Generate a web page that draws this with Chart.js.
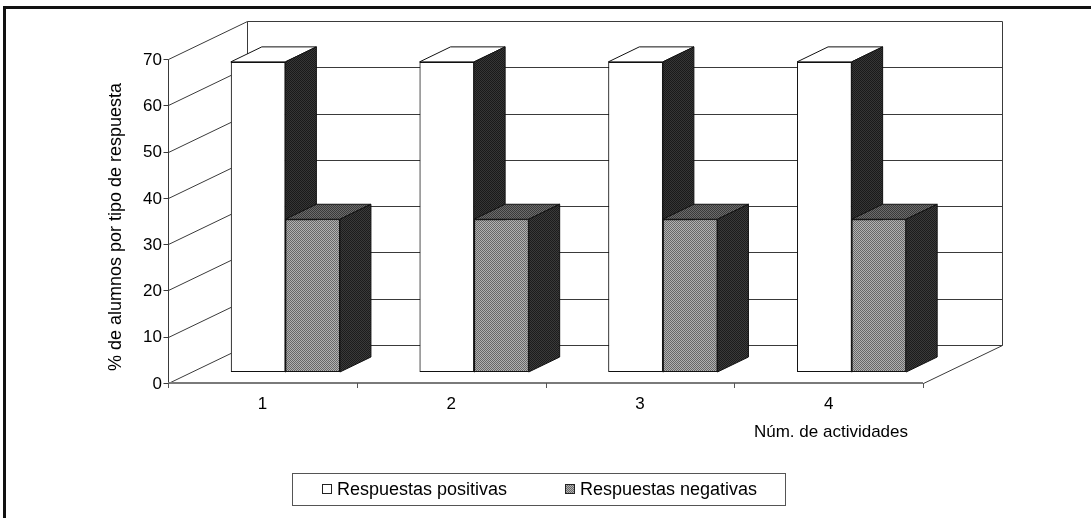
<!DOCTYPE html>
<html>
<head>
<meta charset="utf-8">
<script src="https://cdn.jsdelivr.net/npm/chart.js@4.4.1/dist/chart.umd.min.js"></script>
<style>
  html, body { margin: 0; padding: 0; background: #ffffff; }
  #wrap { position: relative; width: 1091px; height: 518px; }
</style>
</head>
<body>
<div id="wrap"><canvas id="c" width="1091" height="518"></canvas></div>
<script>
// ---- data ----
const categories = ['1', '2', '3', '4'];
const positivas = [67, 67, 67, 67];
const negativas = [33, 33, 33, 33];
const yTicks = [0, 10, 20, 30, 40, 50, 60, 70];
const seriesNames = ['Respuestas positivas', 'Respuestas negativas'];
const xTitle = 'Núm. de actividades';
const yTitle = '% de alumnos por tipo de respuesta';

// ---- 3D geometry (pixel offsets relative to the bar front plane) ----
const FRONT = { x: -23, y: 11 };   // axis / floor front edge
const BACK  = { x: 56,  y: -27 };  // back wall
const DEPTH = { x: 31,  y: -15 };  // bar thickness
const FONT = '"Liberation Sans", Arial, sans-serif';

const canvas = document.getElementById('c');
const baseCtx = canvas.getContext('2d');

// small two-tone dither used for the shaded faces
function checker(a, b) {
  const t = document.createElement('canvas');
  t.width = 2; t.height = 2;
  const g = t.getContext('2d');
  g.fillStyle = a; g.fillRect(0, 0, 2, 2);
  g.fillStyle = b; g.fillRect(1, 0, 1, 1); g.fillRect(0, 1, 1, 1);
  return baseCtx.createPattern(t, 'repeat');
}

function line(ctx, x1, y1, x2, y2) {
  ctx.beginPath(); ctx.moveTo(x1, y1); ctx.lineTo(x2, y2); ctx.stroke();
}
function poly(ctx, pts, fill) {
  ctx.beginPath();
  ctx.moveTo(pts[0][0], pts[0][1]);
  for (let i = 1; i < pts.length; i++) ctx.lineTo(pts[i][0], pts[i][1]);
  ctx.closePath();
  ctx.fillStyle = fill; ctx.fill();
  ctx.strokeStyle = '#111111'; ctx.lineWidth = 1; ctx.stroke();
}

const box3d = {
  id: 'box3d',
  beforeDatasetsDraw(chart) {
    const ctx = chart.ctx, ys = chart.scales.y, ca = chart.chartArea;
    const L = ca.left, R = ca.right;
    const y0 = ys.getPixelForValue(0), yTop = ys.getPixelForValue(yTicks[yTicks.length - 1]);
    const px = v => Math.round(v) + 0.5;
    ctx.save();
    ctx.lineWidth = 1;
    ctx.strokeStyle = '#3a3a3a';
    // back wall gridlines, side wall diagonals, axis tick marks
    yTicks.forEach(v => {
      const y = ys.getPixelForValue(v);
      line(ctx, px(L + BACK.x), px(y + BACK.y), px(R + BACK.x), px(y + BACK.y));
      line(ctx, px(L + FRONT.x), px(y + FRONT.y), px(L + BACK.x), px(y + BACK.y));
      line(ctx, px(L + FRONT.x - 5), px(y + FRONT.y), px(L + FRONT.x), px(y + FRONT.y));
    });
    // wall edges
    line(ctx, px(L + FRONT.x), px(yTop + FRONT.y), px(L + FRONT.x), px(y0 + FRONT.y));
    line(ctx, px(L + BACK.x), px(yTop + BACK.y), px(L + BACK.x), px(y0 + BACK.y));
    line(ctx, px(R + BACK.x), px(yTop + BACK.y), px(R + BACK.x), px(y0 + BACK.y));
    // floor
    line(ctx, px(R + FRONT.x), px(y0 + FRONT.y), px(R + BACK.x), px(y0 + BACK.y));
    ctx.strokeStyle = '#7a7a7a';
    ctx.lineWidth = 2;
    line(ctx, L + FRONT.x, Math.round(y0 + FRONT.y), R + FRONT.x, Math.round(y0 + FRONT.y));
    // category dividers on the floor edge
    ctx.lineWidth = 1;
    ctx.strokeStyle = '#555555';
    const slot = (R - L) / categories.length;
    for (let k = 0; k <= categories.length; k++) {
      const x = px(L + FRONT.x + k * slot);
      line(ctx, x, Math.round(y0 + FRONT.y), x, Math.round(y0 + FRONT.y) + 5);
    }
    ctx.restore();
  },
  afterDatasetsDraw(chart) {
    const ctx = chart.ctx;
    ctx.save();
    for (let i = 0; i < categories.length; i++) {
      chart.data.datasets.forEach((ds, d) => {
        const el = chart.getDatasetMeta(d).data[i];
        el.draw(ctx);
        const p = el.getProps(['x', 'y', 'base', 'width'], true);
        const l = p.x - p.width / 2, r = p.x + p.width / 2;
        poly(ctx, [[l, p.y], [l + DEPTH.x, p.y + DEPTH.y], [r + DEPTH.x, p.y + DEPTH.y], [r, p.y]], ds.topColor);
        poly(ctx, [[r, p.y], [r + DEPTH.x, p.y + DEPTH.y], [r + DEPTH.x, p.base + DEPTH.y], [r, p.base]], ds.sideColor);
      });
    }
    ctx.restore();
  },
  afterDraw(chart) {
    const ctx = chart.ctx, xs = chart.scales.x, ys = chart.scales.y, ca = chart.chartArea;
    ctx.save();
    ctx.fillStyle = '#000000';
    // value axis labels
    ctx.font = '17px ' + FONT;
    ctx.textAlign = 'right';
    ctx.textBaseline = 'middle';
    yTicks.forEach(v => {
      ctx.fillText(String(v), ca.left + FRONT.x - 6, ys.getPixelForValue(v) + FRONT.y + 1);
    });
    // category labels
    ctx.textAlign = 'center';
    const y0 = ys.getPixelForValue(0) + FRONT.y;
    categories.forEach((c, i) => {
      ctx.fillText(c, xs.getPixelForValue(i) + FRONT.x, y0 + 21);
    });
    // axis titles
    ctx.textAlign = 'right';
    ctx.fillText(xTitle, ca.right - 38, y0 + 49);
    ctx.save();
    ctx.font = '18px ' + FONT;
    ctx.translate(116, 227);
    ctx.rotate(-Math.PI / 2);
    ctx.textAlign = 'center';
    ctx.fillText(yTitle, 0, 0);
    ctx.restore();

    // legend
    const lx = 292, ly = 473, lw = 493, lh = 32;
    ctx.strokeStyle = '#555555';
    ctx.lineWidth = 1;
    ctx.strokeRect(lx + 0.5, ly + 0.5, lw, lh);
    ctx.font = '18px ' + FONT;
    ctx.textAlign = 'left';
    const itemX = [322, 565];
    chart.data.datasets.forEach((ds, d) => {
      const sx = itemX[d], sy = ly + 11;
      ctx.fillStyle = ds.backgroundColor;
      ctx.fillRect(sx, sy, 10, 10);
      ctx.strokeStyle = '#222222';
      ctx.strokeRect(sx + 0.5, sy + 0.5, 9, 9);
      ctx.fillStyle = '#000000';
      ctx.fillText(ds.label, sx + 15, ly + 17);
    });

    // outer frame
    ctx.fillStyle = '#111111';
    ctx.fillRect(3, 6, 3, 512);
    ctx.fillRect(3, 6, 1088, 3);
    ctx.restore();
  }
};

new Chart(canvas, {
  type: 'bar',
  data: {
    labels: categories,
    datasets: [
      {
        label: seriesNames[0],
        data: positivas,
        backgroundColor: '#ffffff',
        borderColor: '#111111',
        borderWidth: 1,
        borderSkipped: false,
        topColor: '#ffffff',
        sideColor: checker('#1a1a1a', '#363636')
      },
      {
        label: seriesNames[1],
        data: negativas,
        backgroundColor: checker('#686868', '#b2b2b2'),
        borderColor: '#111111',
        borderWidth: 1,
        borderSkipped: false,
        topColor: checker('#3a3a3a', '#6c6c6c'),
        sideColor: checker('#1c1c1c', '#3a3a3a')
      }
    ]
  },
  options: {
    responsive: false,
    animation: false,
    devicePixelRatio: 1,
    events: [],
    layout: { padding: { left: 191, right: 145, top: 48, bottom: 146 } },
    datasets: { bar: { categoryPercentage: 0.578, barPercentage: 1 } },
    scales: {
      x: { display: false },
      y: { display: false, min: 0, max: 70, ticks: { stepSize: 10 } }
    },
    plugins: { legend: { display: false }, tooltip: { enabled: false } }
  },
  plugins: [box3d]
});
</script>
</body>
</html>
